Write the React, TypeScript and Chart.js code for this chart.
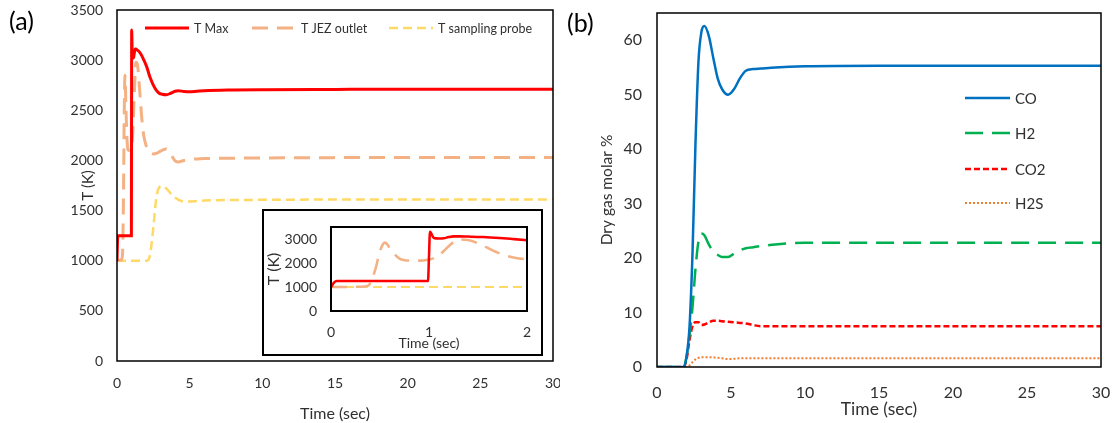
import React, { useEffect, useRef } from "react";
import { Chart, registerables } from "chart.js";

Chart.register(...registerables);

const FONT = "Lato, 'Noto Sans', sans-serif";
const TEXT = "#303030";

// ---------- Panel (a): temperatures ----------
const aTime = [0, 0.03, 0.06, 0.3, 0.38, 0.45, 0.5, 0.55, 0.62, 0.7, 0.8, 0.9, 0.99, 1.0, 1.01, 1.05, 1.1, 1.15, 1.2, 1.25, 1.3, 1.4, 1.55, 1.72, 1.85, 2.0, 2.1, 2.2, 2.3, 2.5, 2.7, 2.9, 3.1, 3.4, 3.7, 4.0, 4.2, 4.6, 5.0, 5.5, 6, 8, 10, 15, 20, 25, 30];
const aTMax = [1000, 1180, 1250, 1250, 1250, 1250, 1250, 1250, 1250, 1250, 1250, 1250, 1250, 2300, 3300, 3040, 3020, 3030, 3080, 3110, 3110, 3100, 3080, 3040, 3000, 2950, 2910, 2860, 2820, 2750, 2700, 2670, 2660, 2655, 2670, 2690, 2695, 2688, 2685, 2690, 2695, 2702, 2705, 2708, 2710, 2710, 2710];
const aTJez = [1000, 1000, 1000, 1010, 1060, 1700, 2500, 2850, 2500, 2180, 2100, 2100, 2140, 2150, 2155, 2200, 2330, 2500, 2700, 2870, 2980, 2960, 2720, 2400, 2240, 2150, 2110, 2090, 2075, 2065, 2070, 2085, 2100, 2115, 2060, 1995, 1985, 2000, 2010, 2015, 2018, 2022, 2025, 2028, 2030, 2030, 2030];
const aTProbe = [1000, 1000, 1000, 1000, 1000, 1000, 1000, 1000, 1000, 1000, 1000, 1000, 1000, 1000, 1000, 1000, 1000, 1000, 1000, 1000, 1000, 1000, 1000, 1000, 1000, 1000, 1000, 1020, 1080, 1330, 1620, 1730, 1745, 1720, 1670, 1630, 1610, 1592, 1590, 1595, 1600, 1605, 1607, 1610, 1610, 1610, 1610];
const aLabels = ["T Max", "T JEZ outlet", "T sampling probe"];
const aXTicks = [0, 5, 10, 15, 20, 25, 30];
const aYTicks = [0, 500, 1000, 1500, 2000, 2500, 3000, 3500];
const insetXTicks = [0, 1, 2];
const insetYTicks = [0, 1000, 2000, 3000];

// ---------- Panel (b): gas composition ----------
const bTime = [0, 1, 1.8, 2.0, 2.2, 2.4, 2.6, 2.8, 3.0, 3.2, 3.5, 3.8, 4.1, 4.4, 4.8, 5.2, 5.6, 6.0, 6.5, 7, 8, 10, 15, 20, 25, 30];
const bCO = [0, 0, 0, 2, 7.5, 21, 41, 56, 61.5, 62.6, 60.8, 56.8, 53, 51, 50, 51, 53, 54.4, 54.7, 54.8, 55.0, 55.2, 55.3, 55.3, 55.3, 55.3];
const bH2 = [0, 0, 0, 2, 6, 11, 18, 23, 24.5, 24.2, 22.5, 21.2, 20.6, 20.2, 20.2, 20.8, 21.4, 21.8, 22.0, 22.2, 22.5, 22.8, 22.8, 22.8, 22.8, 22.8];
const bCO2 = [0, 0, 0, 1.5, 5, 7.5, 8.2, 8.2, 7.7, 7.8, 8.2, 8.5, 8.5, 8.4, 8.3, 8.2, 8.1, 8.0, 7.7, 7.5, 7.5, 7.5, 7.5, 7.5, 7.5, 7.5];
const bH2S = [0, 0, 0, 0, 0.3, 0.9, 1.4, 1.7, 1.8, 1.8, 1.8, 1.75, 1.7, 1.6, 1.45, 1.5, 1.6, 1.6, 1.6, 1.6, 1.6, 1.6, 1.6, 1.6, 1.6, 1.6];
const bLabels = ["CO", "H2", "CO2", "H2S"];
const bXTicks = [0, 5, 10, 15, 20, 25, 30];
const bYTicks = [0, 10, 20, 30, 40, 50, 60];

const pts = (xs: number[], ys: number[]) => xs.map((x, i) => ({ x, y: ys[i] }));

const framePlugin = {
  id: "frame",
  afterDatasetsDraw(chart: any, _a: any, opts: any) {
    const { ctx, chartArea: a } = chart;
    ctx.save();
    ctx.strokeStyle = "#000";
    ctx.lineWidth = opts.width || 1.5;
    ctx.setLineDash([]);
    ctx.strokeRect(a.left, a.top, a.right - a.left, a.bottom - a.top);
    ctx.restore();
  },
};

const boxPlugin = {
  id: "outerBox",
  beforeDraw(chart: any) {
    const { ctx, width, height } = chart;
    ctx.save();
    ctx.fillStyle = "#fff";
    ctx.fillRect(0, 0, width, height);
    ctx.strokeStyle = "#000";
    ctx.lineWidth = 2;
    ctx.strokeRect(1, 1, width - 2, height - 2);
    ctx.restore();
  },
};

function makeLegend(pos: { x: number; y: number }[], lineLen: number, gap: number, font: string) {
  return {
    id: "lineLegend",
    afterDraw(chart: any) {
      const ctx = chart.ctx;
      chart.data.datasets.forEach((ds: any, i: number) => {
        const p = pos[i];
        if (!p) return;
        ctx.save();
        ctx.strokeStyle = ds.borderColor;
        ctx.lineWidth = ds.borderWidth;
        ctx.setLineDash(ds.borderDash || []);
        ctx.beginPath();
        ctx.moveTo(p.x, p.y);
        ctx.lineTo(p.x + lineLen, p.y);
        ctx.stroke();
        ctx.setLineDash([]);
        ctx.fillStyle = TEXT;
        ctx.font = font;
        ctx.textAlign = "left";
        ctx.textBaseline = "middle";
        ctx.fillText(ds.label, p.x + lineLen + gap, p.y + 1);
        ctx.restore();
      });
    },
  };
}

const setTicks = (vals: number[]) => (s: any) => {
  s.ticks = vals.map((v) => ({ value: v }));
};

function tempDatasets(scale: number) {
  return [
    { label: aLabels[0], data: pts(aTime, aTMax), borderColor: "#FF0000", borderWidth: 3 * scale, borderDash: [] as number[] },
    { label: aLabels[1], data: pts(aTime, aTJez), borderColor: "#F4B183", borderWidth: 3 * scale, borderDash: [16, 9] },
    { label: aLabels[2], data: pts(aTime, aTProbe), borderColor: "#FFD966", borderWidth: 2.5 * scale, borderDash: [9, 5] },
  ];
}

function axis(opts: any) {
  const { min, max, ticks, size, fit, pad, title, titlePad, titleSize, horizontal } = opts;
  return {
    type: "linear",
    min,
    max,
    grid: { display: false, drawTicks: false },
    border: { display: false },
    afterBuildTicks: setTicks(ticks),
    afterFit: (s: any) => {
      if (horizontal) s.height = fit;
      else s.width = fit;
      s.paddingTop = 0;
      s.paddingBottom = 0;
      s.paddingLeft = 0;
      s.paddingRight = 0;
    },
    ticks: {
      color: TEXT,
      padding: pad,
      font: { family: FONT, size },
      maxRotation: 0,
      autoSkip: false,
      callback: (v: any) => String(v),
    },
    title: {
      display: true,
      text: title,
      color: TEXT,
      font: { family: FONT, size: titleSize },
      padding: titlePad,
    },
  };
}

const baseOptions = {
  animation: false,
  responsive: false,
  maintainAspectRatio: false,
  elements: { point: { radius: 0 }, line: { tension: 0.4, cubicInterpolationMode: "monotone" } },
};

function cfgA(): any {
  return {
    type: "line",
    data: { datasets: tempDatasets(1) },
    options: {
      ...baseOptions,
      layout: { padding: { top: 10, right: 7, left: 0, bottom: 0 } },
      plugins: { legend: { display: false }, tooltip: { enabled: false }, frame: { width: 1.5 } },
      scales: {
        x: axis({ min: 0, max: 30, ticks: aXTicks, size: 14, fit: 62, pad: 14, title: "Time (sec)", titlePad: { top: 0, bottom: 0 }, titleSize: 16, horizontal: true }),
        y: axis({ min: 0, max: 3500, ticks: aYTicks, size: 14, fit: 117, pad: 14, title: "T (K)", titlePad: { top: 79, bottom: 0 }, titleSize: 15 }),
      },
    },
    plugins: [framePlugin, makeLegend([{ x: 145, y: 28 }, { x: 252, y: 28 }, { x: 389, y: 28 }], 44, 5, `12.5px ${FONT}`)],
  };
}

function cfgInset(): any {
  return {
    type: "line",
    data: { datasets: tempDatasets(0.85) },
    options: {
      ...baseOptions,
      layout: { padding: { top: 18, right: 16, left: 0, bottom: 0 } },
      plugins: { legend: { display: false }, tooltip: { enabled: false }, frame: { width: 2 } },
      scales: {
        x: axis({ min: 0, max: 2, ticks: insetXTicks, size: 14, fit: 45, pad: 13, title: "Time (sec)", titlePad: { top: 0, bottom: 4 }, titleSize: 14, horizontal: true }),
        y: axis({ min: 0, max: 3500, ticks: insetYTicks, size: 14, fit: 69, pad: 14, title: "T (K)", titlePad: { top: 2, bottom: 0 }, titleSize: 16 }),
      },
    },
    plugins: [boxPlugin, framePlugin],
  };
}

function cfgB(): any {
  return {
    type: "line",
    data: {
      datasets: [
        { label: bLabels[0], data: pts(bTime, bCO), borderColor: "#0070C0", borderWidth: 2.5, borderDash: [] as number[] },
        { label: bLabels[1], data: pts(bTime, bH2), borderColor: "#00B050", borderWidth: 2.5, borderDash: [18, 9] },
        { label: bLabels[2], data: pts(bTime, bCO2), borderColor: "#FF0000", borderWidth: 2.5, borderDash: [6, 3] },
        { label: bLabels[3], data: pts(bTime, bH2S), borderColor: "#ED7D31", borderWidth: 2, borderDash: [2, 2] },
      ],
    },
    options: {
      ...baseOptions,
      layout: { padding: { top: 13, right: 17, left: 0, bottom: 0 } },
      plugins: { legend: { display: false }, tooltip: { enabled: false }, frame: { width: 1.5 } },
      scales: {
        x: axis({ min: 0, max: 30, ticks: bXTicks, size: 16, fit: 56, pad: 16, title: "Time (sec)", titlePad: { top: 0, bottom: 3 }, titleSize: 17.5, horizontal: true }),
        y: axis({ min: 0, max: 65, ticks: bYTicks, size: 16, fit: 97, pad: 15, title: "Dry gas molar %", titlePad: { top: 38, bottom: 0 }, titleSize: 15.5 }),
      },
    },
    plugins: [framePlugin, makeLegend([{ x: 405, y: 98 }, { x: 405, y: 133 }, { x: 405, y: 169 }, { x: 405, y: 203 }], 45, 5, `15px ${FONT}`)],
  };
}

export default function App() {
  const aRef = useRef<HTMLCanvasElement>(null);
  const bRef = useRef<HTMLCanvasElement>(null);
  const iRef = useRef<HTMLCanvasElement>(null);

  useEffect(() => {
    const charts = [
      new Chart(aRef.current as HTMLCanvasElement, cfgA()),
      new Chart(bRef.current as HTMLCanvasElement, cfgB()),
      new Chart(iRef.current as HTMLCanvasElement, cfgInset()),
    ];
    return () => charts.forEach((c) => c.destroy());
  }, []);

  const label: React.CSSProperties = { position: "absolute", fontSize: 25, lineHeight: 1, color: "#000", fontFamily: FONT };

  return (
    <div style={{ position: "absolute", left: 0, top: 0, width: 1118, height: 423, background: "#fff", overflow: "hidden" }}>
      <canvas ref={aRef} width={560} height={423} style={{ position: "absolute", left: 0, top: 0 }} />
      <canvas ref={bRef} width={558} height={423} style={{ position: "absolute", left: 560, top: 0 }} />
      <canvas ref={iRef} width={281} height={147} style={{ position: "absolute", left: 262, top: 209 }} />
      <div style={{ ...label, left: 9, top: 8 }}>(a)</div>
      <div style={{ ...label, left: 567, top: 10 }}>(b)</div>
    </div>
  );
}
